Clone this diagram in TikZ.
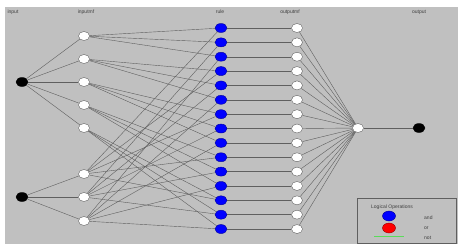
\documentclass[tikz,border=0pt]{standalone}
\usepackage{fontspec}
\setmainfont{Liberation Sans}
\usepackage{xcolor}
\usetikzlibrary{positioning,shapes.geometric}
\definecolor{panel}{RGB}{192,192,192}
\definecolor{wire}{RGB}{95,95,95}
\definecolor{notgreen}{RGB}{90,220,90}
\tikzset{
  innode/.style={ellipse, draw=black, fill=black, minimum width=12pt, minimum height=9pt, inner sep=0pt},
  mfnode/.style={ellipse, draw=wire, fill=white, minimum width=11pt, minimum height=9pt, inner sep=0pt, line width=0.4pt},
  rulenode/.style={ellipse, draw=blue!60!black, fill=blue, minimum width=12pt, minimum height=9pt, inner sep=0pt, line width=0.4pt},
  ornode/.style={ellipse, draw=red!60!black, fill=red, minimum width=13pt, minimum height=10pt, inner sep=0pt, line width=0.4pt},
  layer/.style={font=\fontsize{5}{6}\selectfont, text=black!75, inner sep=0pt},
  legendbox/.style={draw=wire, fill=panel, line width=0.6pt, minimum width=99pt, minimum height=45pt, inner sep=0pt},
  link/.style={draw=wire, line width=0.4pt}
}

\begin{document}
\begin{tikzpicture}[x=1pt,y=-1pt]
  \useasboundingbox (0,0) rectangle (465,250);
  \fill[panel] (5,7) rectangle (458,244);

  % layer titles
  \node[layer] (tin) at (13,12) {input};
  \node[layer] (timf) at (86,12) {inputmf};
  \node[layer] (trule) at (220,12) {rule};
  \node[layer] (tomf) at (290,12) {outputmf};
  \node[layer] (tout) at (419,12) {output};

  % inputs and their membership functions
  \node[innode] (in1) at (22,82) {};
  \node[innode] (in2) at (22,197) {};
  \foreach \i/\y in {1/36,2/59,3/82,4/105,5/128,6/174,7/197,8/221}
    \node[mfnode] (imf\i) at (84,\y) {};

  % rules and output membership functions
  \foreach \r in {1,...,15} {
    \node[rulenode] (rule\r) at (221,{28+(\r-1)*14.36}) {};
    \node[mfnode] (omf\r) at (297,{28+(\r-1)*14.36}) {};
  }
  \node[mfnode] (agg) at (358,128) {};
  \node[innode] (out) at (419,128) {};

  % connections
  \foreach \i in {1,...,5} \draw[link] (in1) -- (imf\i);
  \foreach \i in {6,7,8} \draw[link] (in2) -- (imf\i);
  \foreach \i in {1,...,5}
    \foreach \j in {1,2,3} {
      \pgfmathtruncatemacro{\r}{3*(\i-1)+\j}
      \pgfmathtruncatemacro{\k}{5+\j}
      \draw[link] (imf\i) -- (rule\r);
      \draw[link] (imf\k) -- (rule\r);
    }
  \foreach \r in {1,...,15} {
    \draw[link] (rule\r) -- (omf\r);
    \draw[link] (omf\r) -- (agg);
  }
  \draw[link] (agg) -- (out);

  % legend
  \node[legendbox] (legend) at (406.5,220.5) {};
  \node[layer] (lgtitle) at (392,207) {Logical Operations};
  \node[rulenode, minimum width=13pt, minimum height=10pt] (lgand) at (389,216) {};
  \node[ornode] (lgor) at (389,228) {};
  \draw[notgreen, line width=0.5pt] (374,236) -- (404,236);
  \node[layer, anchor=west] (tand) at (424,217.5) {and};
  \node[layer, anchor=west] (tor) at (424,228) {or};
  \node[layer, anchor=west] (tnot) at (424,238) {not};
\end{tikzpicture}
\end{document}
